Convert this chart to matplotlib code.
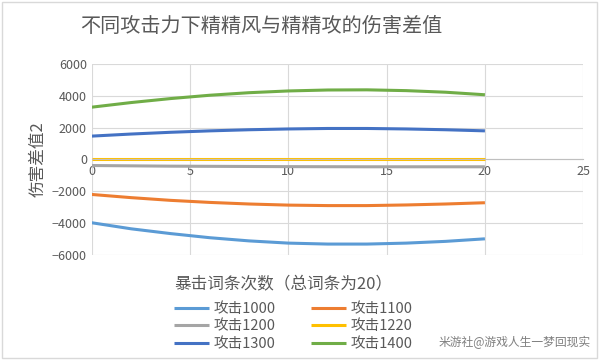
import matplotlib.pyplot as plt
from matplotlib.patches import Rectangle

plt.rcParams['font.family'] = ['Noto Sans CJK SC', 'DejaVu Sans']

# 暴击词条次数
crit_counts = [0, 2, 4, 6, 8, 10, 12, 14, 16, 18, 20]

atk1000 = [-3980, -4360, -4660, -4920, -5120, -5260, -5320, -5320, -5260, -5150, -4990]
atk1100 = [-2200, -2400, -2570, -2700, -2800, -2870, -2900, -2900, -2860, -2800, -2720]
atk1200 = [-380, -400, -420, -430, -440, -450, -455, -460, -460, -460, -460]
atk1220 = [20, 20, 20, 20, 20, 20, 20, 20, 20, 20, 20]
atk1300 = [1470, 1600, 1710, 1800, 1870, 1920, 1950, 1950, 1920, 1870, 1800]
atk1400 = [3290, 3580, 3830, 4040, 4200, 4310, 4370, 4380, 4330, 4230, 4070]

series_names = ['攻击1000', '攻击1100', '攻击1200', '攻击1220', '攻击1300', '攻击1400']
series_vals = [atk1000, atk1100, atk1200, atk1220, atk1300, atk1400]
colors = ['#5B9BD5', '#ED7D31', '#A5A5A5', '#FFC000', '#4472C4', '#70AD47']

gray = '#595959'

fig = plt.figure(figsize=(6, 3.6), dpi=100)
ax = fig.add_axes([0.153, 0.292, 0.819, 0.530])

lines = []
for name, vals, c in zip(series_names, series_vals, colors):
    ln, = ax.plot(crit_counts, vals, color=c, lw=2.2, label=name, solid_capstyle='butt')
    lines.append(ln)

ax.set_xlim(0, 25)
ax.set_ylim(-6000, 6000)
ax.set_xticks(range(0, 26, 5))
ax.set_yticks(range(-6000, 6001, 2000))
ax.grid(True, color='#D9D9D9', lw=0.8)
ax.set_axisbelow(True)
for s in ['top', 'right', 'left']:
    ax.spines[s].set_visible(False)
ax.spines['bottom'].set_position(('data', 0))
ax.spines['bottom'].set_color('#BFBFBF')
ax.tick_params(length=0, colors=gray, labelsize=9)
ax.tick_params(axis='x', pad=4)

ax.set_ylabel('伤害差值2', fontsize=12, color=gray, labelpad=4)
fig.text(0.29, 0.21, '暴击词条次数（总词条为20）', fontsize=12, color=gray, ha='left', va='center')
fig.text(0.435, 0.928, '不同攻击力下精精风与精精攻的伤害差值', fontsize=14.5, color=gray, ha='center', va='center')

# row-major order like Excel: 1000 1100 / 1200 1220 / 1300 1400
order = [0, 2, 4, 1, 3, 5]
leg = fig.legend([lines[i] for i in order], [series_names[i] for i in order],
                 loc='upper left', bbox_to_anchor=(0.281, 0.178), ncol=2, frameon=False,
                 fontsize=10.5, handlelength=2.4, columnspacing=2.4, labelspacing=0.25,
                 handletextpad=0.3, borderaxespad=0)
for t in leg.get_texts():
    t.set_color(gray)

fig.text(0.985, 0.05, '米游社@游戏人生一梦回现实', fontsize=8.5, color='#7F7F7F', ha='right', va='center')

fig.add_artist(Rectangle((0.003, 0.005), 0.992, 0.99, transform=fig.transFigure,
                         fill=False, edgecolor='#D9D9D9', lw=1))

fig.savefig('out.png', dpi=100)
